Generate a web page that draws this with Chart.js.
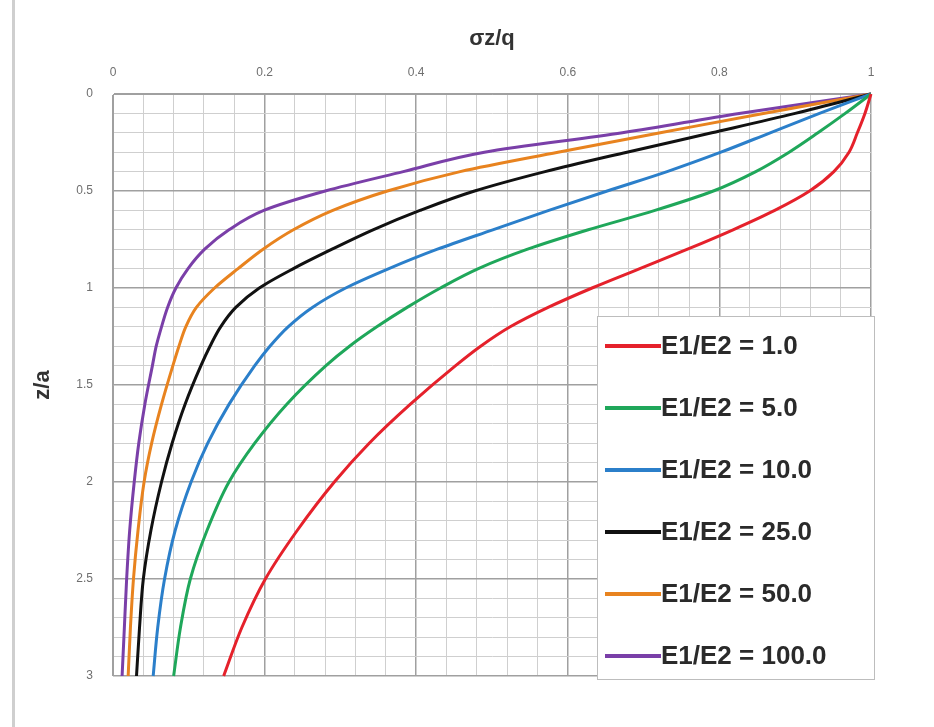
<!DOCTYPE html>
<html>
<head>
<meta charset="utf-8">
<script src="https://cdn.jsdelivr.net/npm/chart.js@4.4.1/dist/chart.umd.min.js"></script>
<style>
  body { margin: 0; background: #fff; }
  #wrap { position: relative; width: 934px; height: 727px; }
  #edge { position: absolute; left: 12px; top: 0; width: 3px; height: 727px; background: #cfcfcf; }
</style>
</head>
<body>
<div id="wrap">
  <div id="edge"></div>
  <canvas id="myChart" width="934" height="727"></canvas>
</div>
<script>
// depth z/a (shared by every curve)
var depth = [0, 0.1, 0.2, 0.3, 0.4, 0.5, 0.6, 0.7, 0.8, 0.9, 1.0, 1.1, 1.2, 1.3, 1.4, 1.6, 1.8, 2.0, 2.25, 2.5, 2.75, 3.0]

// sigma z / q, one array per E1/E2 ratio
var ratio1   = [1, 0.992, 0.982, 0.971, 0.951, 0.919, 0.873, 0.818, 0.758, 0.695, 0.632, 0.574, 0.524, 0.485, 0.452, 0.392, 0.338, 0.292, 0.243, 0.201, 0.17, 0.146]
var ratio5   = [1, 0.966, 0.93, 0.892, 0.848, 0.792, 0.715, 0.627, 0.547, 0.482, 0.432, 0.388, 0.348, 0.312, 0.281, 0.229, 0.187, 0.153, 0.124, 0.102, 0.089, 0.08]
var ratio10  = [1, 0.932, 0.867, 0.802, 0.731, 0.652, 0.575, 0.501, 0.428, 0.364, 0.307, 0.263, 0.231, 0.207, 0.187, 0.153, 0.125, 0.103, 0.082, 0.068, 0.059, 0.053]
var ratio25  = [1, 0.9, 0.79, 0.678, 0.57, 0.477, 0.405, 0.343, 0.289, 0.238, 0.193, 0.162, 0.142, 0.128, 0.116, 0.095, 0.078, 0.064, 0.05, 0.04, 0.035, 0.031]
var ratio50  = [1, 0.858, 0.722, 0.587, 0.458, 0.362, 0.29, 0.238, 0.198, 0.165, 0.134, 0.11, 0.096, 0.087, 0.079, 0.064, 0.051, 0.041, 0.033, 0.027, 0.023, 0.02]
var ratio100 = [1, 0.826, 0.672, 0.49, 0.383, 0.28, 0.199, 0.153, 0.121, 0.099, 0.083, 0.072, 0.064, 0.057, 0.052, 0.042, 0.034, 0.028, 0.022, 0.018, 0.015, 0.012]

var labels = ['E1/E2 = 1.0', 'E1/E2 = 5.0', 'E1/E2 = 10.0', 'E1/E2 = 25.0', 'E1/E2 = 50.0', 'E1/E2 = 100.0']
var colors = ['#e5212b', '#1fa75a', '#2b7fca', '#111111', '#e8831f', '#7a3fa8']
var series = [ratio1, ratio5, ratio10, ratio25, ratio50, ratio100]

var xTicks = [0, 0.2, 0.4, 0.6, 0.8, 1]
var yTicks = [0, 0.5, 1, 1.5, 2, 2.5, 3]

function isMajor(v, list){
    return list.some(function(t){ return Math.abs(t - v) < 1e-6 })
}

var datasets = series.map(function(vals, i){
    return {
        label: labels[i],
        data: vals.map(function(v, k){ return {x: v, y: depth[k]} }),
        borderColor: colors[i],
        backgroundColor: colors[i],
        borderWidth: 3,
        pointRadius: 0,
        showLine: true,
        cubicInterpolationMode: 'monotone',
        clip: false
    }
})

// legend box drawn inside the plot, bottom right
var boxLegend = {
    id: 'boxLegend',
    afterDraw: function(chart){
        var ctx = chart.ctx
        var a = chart.chartArea
        var right = a.right + 4, bottom = a.bottom + 4
        var left = right - 278, top = bottom - 364
        ctx.save()
        ctx.fillStyle = '#fff'
        ctx.fillRect(left, top, right - left, bottom - top)
        ctx.strokeStyle = '#bdbdbd'
        ctx.lineWidth = 1
        ctx.strokeRect(left + 0.5, top + 0.5, right - left - 1, bottom - top - 1)
        ctx.font = 'bold 26px "Liberation Sans", sans-serif'
        ctx.textBaseline = 'middle'
        chart.data.datasets.forEach(function(ds, i){
            var y = top + 30 + i * 62
            ctx.strokeStyle = ds.borderColor
            ctx.lineWidth = 4
            ctx.beginPath()
            ctx.moveTo(left + 8, y)
            ctx.lineTo(left + 64, y)
            ctx.stroke()
            ctx.fillStyle = '#2a2a2a'
            ctx.fillText(ds.label, left + 64, y + 1)
        })
        ctx.restore()
    }
}

var tickFont = {family: '"Liberation Sans", sans-serif', size: 12}

var myChart = document.getElementById('myChart').getContext('2d')
var chart = new Chart(myChart, {
    type: 'scatter',
    data: { datasets: datasets },
    options: {
        indexAxis: 'y',
        responsive: false,
        animation: false,
        layout: { padding: { left: 0, top: 0, right: 63, bottom: 51 } },
        plugins: {
            legend: { display: false },
            tooltip: { enabled: false }
        },
        scales: {
            x: {
                type: 'linear',
                position: 'top',
                min: 0, max: 1,
                afterFit: function(s){ s.height = 94 },
                ticks: {
                    stepSize: 0.04,
                    autoSkip: false,
                    maxRotation: 0,
                    padding: 14,
                    color: '#6f6f6f',
                    font: tickFont,
                    callback: function(v){ return isMajor(v, xTicks) ? String(Math.round(v * 10) / 10) : '' }
                },
                grid: {
                    drawTicks: false,
                    color: function(c){ return isMajor(c.tick.value, xTicks) ? '#a0a0a0' : '#cfcfcf' },
                    lineWidth: function(c){ return isMajor(c.tick.value, xTicks) ? 1.5 : 1 }
                },
                border: { color: '#a0a0a0' },
                title: {
                    display: true,
                    text: 'σz/q',
                    color: '#333',
                    font: { family: '"Liberation Sans", sans-serif', size: 22, weight: 'bold' },
                    padding: { top: 26, bottom: 0 }
                }
            },
            y: {
                type: 'linear',
                position: 'left',
                reverse: true,
                min: 0, max: 3,
                afterFit: function(s){ s.width = 113 },
                ticks: {
                    stepSize: 0.1,
                    autoSkip: false,
                    padding: 20,
                    color: '#6f6f6f',
                    font: tickFont,
                    callback: function(v){ return isMajor(v, yTicks) ? String(Math.round(v * 10) / 10) : '' }
                },
                grid: {
                    drawTicks: false,
                    color: function(c){ return isMajor(c.tick.value, yTicks) ? '#a0a0a0' : '#cfcfcf' },
                    lineWidth: function(c){ return isMajor(c.tick.value, yTicks) ? 1.5 : 1 }
                },
                border: { color: '#a0a0a0' },
                title: {
                    display: true,
                    text: 'z/a',
                    color: '#333',
                    font: { family: '"Liberation Sans", sans-serif', size: 22, weight: 'bold' },
                    padding: { top: 30, bottom: 0 }
                }
            }
        }
    },
    plugins: [boxLegend]
})
</script>
</body>
</html>
